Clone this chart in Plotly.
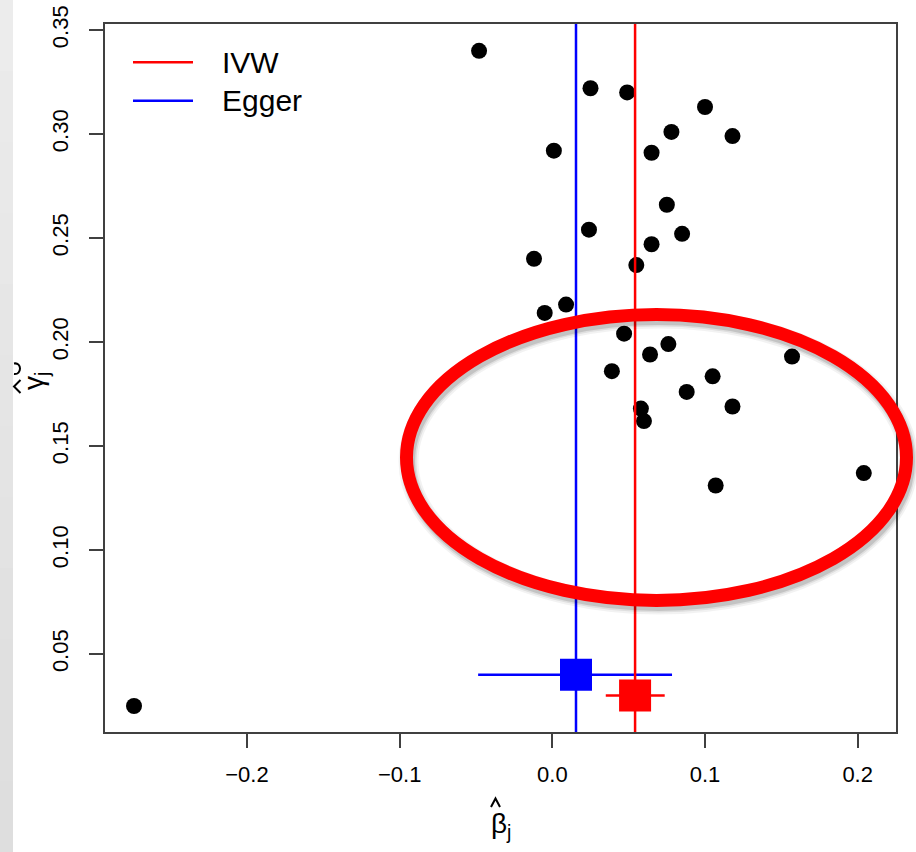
import plotly.graph_objects as go

# ---- data ----
beta_hat = [-0.048, 0.025, 0.049, 0.100, 0.078, 0.118, 0.001, 0.065, 0.075, 0.024,
            0.085, 0.065, -0.012, 0.055, 0.009, -0.005, 0.047, 0.076, 0.064, 0.157,
            0.039, 0.105, 0.088, 0.118, 0.058, 0.060, 0.204, 0.107, -0.274]
gamma_hat = [0.340, 0.322, 0.320, 0.313, 0.301, 0.299, 0.292, 0.291, 0.266, 0.254,
             0.252, 0.247, 0.240, 0.237, 0.218, 0.214, 0.204, 0.199, 0.194, 0.193,
             0.186, 0.1835, 0.176, 0.169, 0.168, 0.162, 0.137, 0.131, 0.025]

method_names = ["IVW", "Egger"]
method_colors = ["#ff0000", "#0000ff"]
method_est = [0.0542, 0.0155]
method_ypos = [0.030, 0.040]
method_ci_low = [0.0350, -0.0486]
method_ci_high = [0.0736, 0.0784]

x_ticks = [-0.2, -0.1, 0.0, 0.1, 0.2]
y_ticks = [0.05, 0.10, 0.15, 0.20, 0.25, 0.30, 0.35]
x_range = [-0.293, 0.2251]
y_range = [0.0125, 0.3529]

FONT = "Liberation Sans, Arial, Helvetica, sans-serif"
PW, PH = 791, 708   # plot area size in px
ML, MT = 105, 24    # plot area offset


def px(xp):
    return (xp - ML) / PW


def py(yp):
    return (MT + PH - yp) / PH


def path(points):
    segs = []
    for i, (a, b) in enumerate(points):
        segs.append(("M" if i == 0 else "L") + f"{px(a):.5f},{py(b):.5f}")
    return " ".join(segs)


fig = go.Figure()

fig.add_trace(go.Scatter(
    x=beta_hat, y=gamma_hat, mode="markers",
    marker=dict(color="black", size=16, line=dict(width=0)),
    showlegend=False, name="SNPs"))

# vertical estimate lines
for est, col in zip(method_est, method_colors):
    fig.add_shape(type="line", xref="x", yref="paper", x0=est, x1=est, y0=0, y1=1,
                  line=dict(color=col, width=2.5), layer="above")

# estimate squares with CI
for name, col, est, yp, lo, hi in zip(method_names, method_colors, method_est,
                                      method_ypos, method_ci_low, method_ci_high):
    fig.add_trace(go.Scatter(
        x=[est], y=[yp], mode="markers", name=name,
        marker=dict(symbol="square", size=32, color=col, line=dict(width=0)),
        error_x=dict(type="data", symmetric=False, array=[hi - est],
                     arrayminus=[est - lo], color=col, thickness=2.5, width=0),
        showlegend=False))

# left grey strip (slide background)
n_bands = 12
for i in range(n_bands):
    g = int(236 - 14 * i / (n_bands - 1))
    fig.add_shape(type="rect", xref="paper", yref="paper",
                  x0=px(0), x1=px(13),
                  y0=py(852 * (i + 1) / n_bands), y1=py(852 * i / n_bands),
                  fillcolor=f"rgb({g},{g},{g})", line=dict(width=0), layer="above")

# highlighting ellipse with soft shadow
ex0, ex1, ey0, ey1 = px(406.5), px(906.5), py(600.5), py(314.5)
for alpha, w in [(0.05, 20), (0.08, 16), (0.12, 13)]:
    ox, oy = 2 / PW, -4 / PH
    fig.add_shape(type="circle", xref="paper", yref="paper",
                  x0=ex0 + ox, x1=ex1 + ox, y0=ey0 + oy, y1=ey1 + oy,
                  line=dict(color=f"rgba(0,0,0,{alpha})", width=w), layer="above")
fig.add_shape(type="circle", xref="paper", yref="paper",
              x0=ex0, x1=ex1, y0=ey0, y1=ey1,
              line=dict(color="#ff0000", width=13), layer="above")

# manual legend
legend_y = [py(62.3), py(100.7)]
for name, col, ly in zip(method_names, method_colors, legend_y):
    fig.add_shape(type="line", xref="paper", yref="paper",
                  x0=px(133), x1=px(193), y0=ly, y1=ly,
                  line=dict(color=col, width=2.5))
    fig.add_annotation(text=name, xref="paper", yref="paper",
                       x=px(220), y=ly, xanchor="left", yanchor="middle",
                       showarrow=False, font=dict(family=FONT, size=30, color="black"))

# axis titles
fig.add_annotation(text="\u03b2<sub>j</sub>", xref="paper", yref="paper",
                   x=px(501), y=py(825), xanchor="center",
                   yanchor="middle", showarrow=False,
                   font=dict(family=FONT, size=28, color="black"))
fig.add_shape(type="path", xref="paper", yref="paper",
              path=path([(491, 807), (495.5, 798.5), (500, 807)]),
              line=dict(color="black", width=2))
fig.add_annotation(text="\u03b3<sub>j</sub>", xref="paper", yref="paper",
                   x=px(35), y=py(381), xanchor="center",
                   yanchor="middle", showarrow=False, textangle=-90,
                   font=dict(family=FONT, size=28, color="black"))
fig.add_shape(type="path", xref="paper", yref="paper",
              path=path([(20.5, 380), (14, 386.5), (20.5, 393)]),
              line=dict(color="black", width=2))
fig.add_shape(type="path", xref="paper", yref="paper",
              path=(f"M{px(14):.5f},{py(363.5):.5f} "
                    f"C{px(22):.5f},{py(362):.5f} {px(22):.5f},{py(375):.5f} "
                    f"{px(14):.5f},{py(374):.5f}"),
              line=dict(color="black", width=2))

axis_common = dict(showgrid=False, zeroline=False, showline=True, mirror=True,
                   linecolor="#404040", linewidth=1.5, ticks="outside", ticklen=14,
                   tickwidth=1.5, tickcolor="#404040", automargin=False,
                   tickfont=dict(family=FONT, size=22, color="black"))

fig.update_xaxes(range=x_range, tickvals=x_ticks, tickformat=".1f",
                 ticklabelstandoff=8, **axis_common)
fig.update_yaxes(range=y_range, tickvals=y_ticks, tickformat=".2f", tickangle=-90,
                 ticklabelstandoff=12, **axis_common)

fig.update_layout(
    width=916, height=852,
    margin=dict(l=ML, r=916 - ML - PW, t=MT, b=852 - MT - PH, autoexpand=False),
    plot_bgcolor="white", paper_bgcolor="white",
    showlegend=False,
    font=dict(family=FONT, color="black"),
)

fig.write_html("out.html",
               config={"displayModeBar": False},
               post_script="document.body.style.margin='0';"
                           "document.body.style.overflow='hidden';")
